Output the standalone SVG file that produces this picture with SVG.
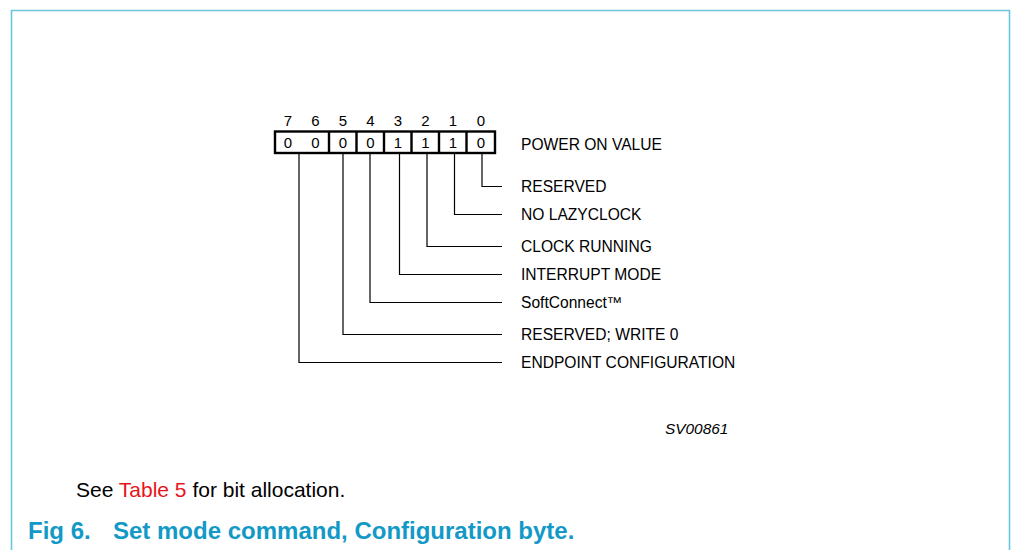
<svg xmlns="http://www.w3.org/2000/svg" width="1012" height="550" viewBox="0 0 1012 550">
<style>
.t{font-family:"Liberation Sans",Arial,sans-serif;fill:#000}
.lbl{font-size:15.6px}
.num{font-size:15px;text-anchor:middle}
.ln{stroke:#000;stroke-width:1.2;fill:none}
.cell{stroke:#000;stroke-width:2.4;fill:none}
</style>
<rect width="1012" height="550" fill="#fff"/>
<path d="M11.5 550 V10.5 H1009.5 V550" fill="none" stroke="#6ac6dc" stroke-width="1.6"/>
<g id="register">
<rect class="cell" x="275" y="131.5" width="220" height="21.5"/>
<path class="cell" d="M329 131.5V153M356.5 131.5V153M384 131.5V153M411.5 131.5V153M439 131.5V153M466.5 131.5V153"/>
<g class="t num">
<text x="288" y="126">7</text><text x="315.5" y="126">6</text><text x="343" y="126">5</text><text x="370.5" y="126">4</text><text x="398" y="126">3</text><text x="425.5" y="126">2</text><text x="453" y="126">1</text><text x="481" y="126">0</text>
<text x="288" y="148">0</text><text x="315.5" y="148">0</text><text x="343" y="148">0</text><text x="370.5" y="148">0</text><text x="398" y="148">1</text><text x="425.5" y="148">1</text><text x="453" y="148">1</text><text x="481" y="148">0</text>
</g>
<text class="t lbl" x="521" y="149.5">POWER ON VALUE</text>
</g>
<g id="connectors">
<path class="ln" d="M482 153V186.5H502"/>
<path class="ln" d="M454.5 153V214.5H502"/>
<path class="ln" d="M427 153V246.5H502"/>
<path class="ln" d="M399.5 153V274.5H502"/>
<path class="ln" d="M370 153V302.5H502"/>
<path class="ln" d="M343 153V334.5H502"/>
<path class="ln" d="M299 153V362.5H502"/>
</g>
<g id="labels" class="t lbl">
<text id="bit0" x="521" y="192">RESERVED</text>
<text id="bit1" x="521" y="220">NO LAZYCLOCK</text>
<text id="bit2" x="521" y="252">CLOCK RUNNING</text>
<text id="bit3" x="521" y="280">INTERRUPT MODE</text>
<text id="bit4" x="521" y="308">SoftConnect™</text>
<text id="bit5" x="521" y="340">RESERVED; WRITE 0</text>
<text id="bit76" x="521" y="368">ENDPOINT CONFIGURATION</text>
</g>
<text class="t" x="665" y="434" font-size="15.4" font-style="italic">SV00861</text>
<text class="t" x="76" y="497" font-size="21" >See <tspan fill="#e8141c">Table 5</tspan> for bit allocation.</text>
<text x="28" y="539" font-family="'Liberation Sans',Arial,sans-serif" font-size="24" font-weight="bold" fill="#1399c6">Fig 6.<tspan x="113">Set mode command, Configuration byte.</tspan></text>
</svg>
